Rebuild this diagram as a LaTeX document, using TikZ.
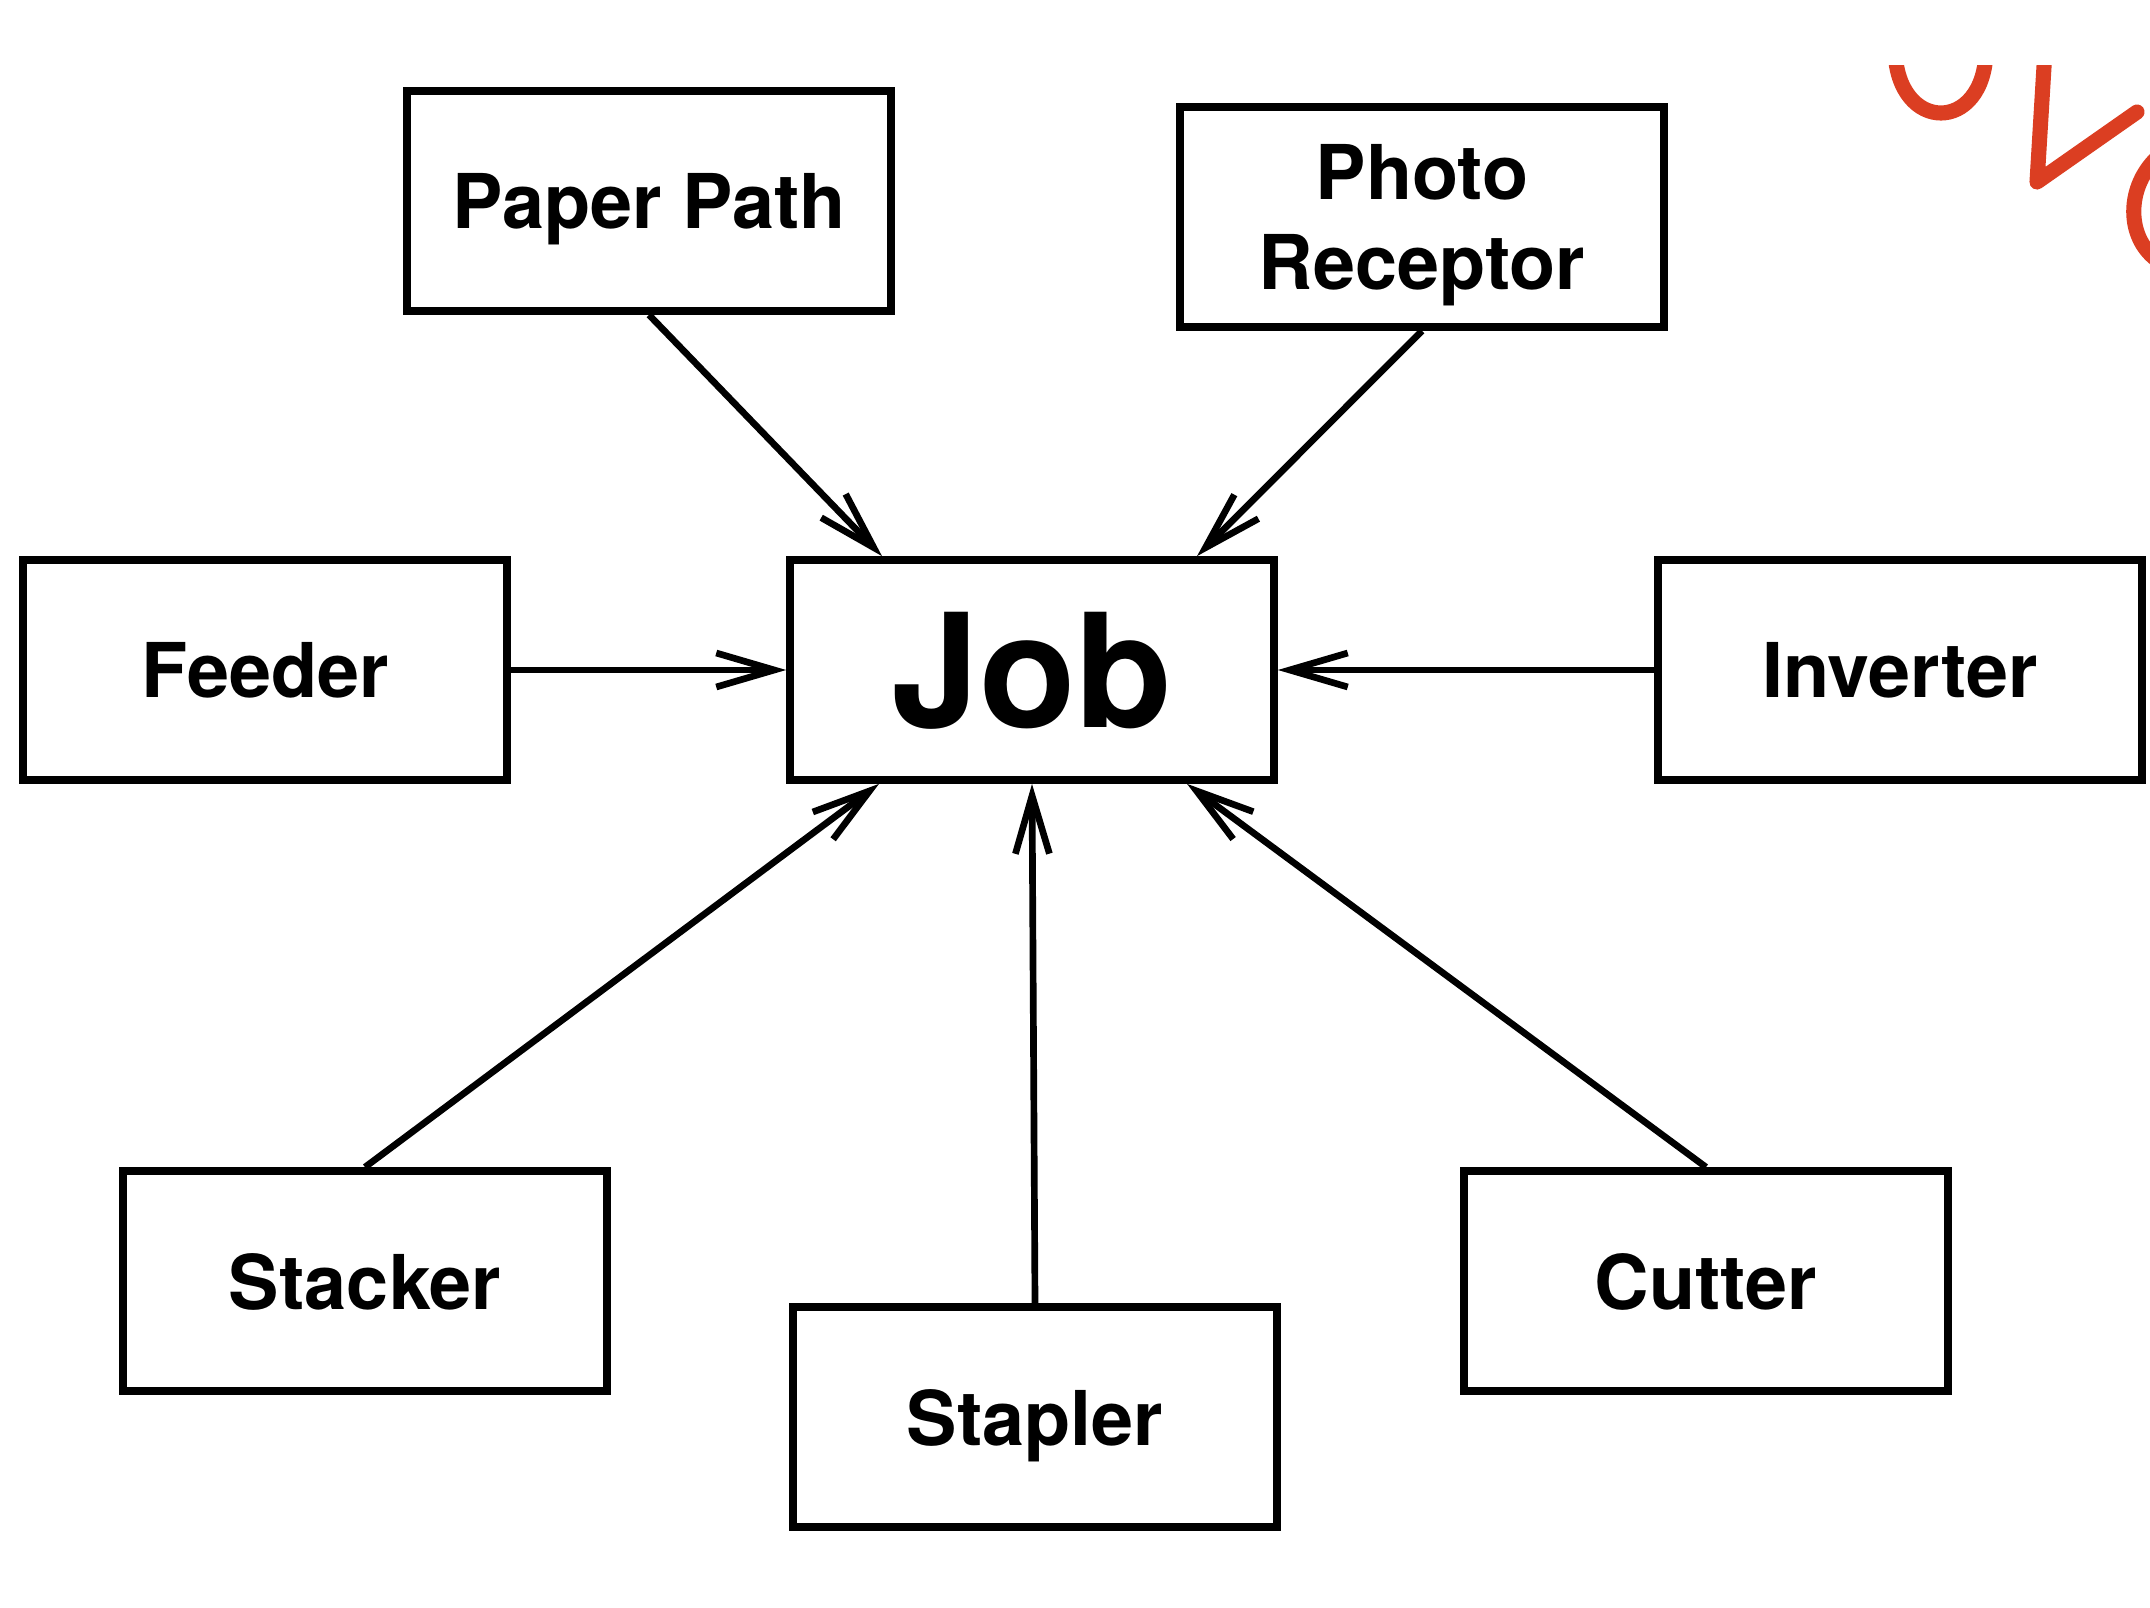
\documentclass[tikz,border=0pt]{standalone}
\usepackage{fontspec}
\setmainfont{TeX Gyre Heros}
\usetikzlibrary{arrows.meta,calc}
\definecolor{inkred}{RGB}{219,62,34}
\begin{document}
\begin{tikzpicture}[>={Straight Barb[length=5.8mm,width=3.4mm]},
  box/.style={draw, line width=2.2pt, minimum width=4.84cm, minimum height=2.2cm, inner sep=0pt, text depth=0pt, align=center, font=\fontsize{21.5}{25.5}\selectfont\bfseries},
  link/.style={->, line width=1.9pt}]
\useasboundingbox (0,0) rectangle (21.5,-16.08);
\node[box] (paper) at (6.49,-2.01) {Paper Path};
\node[box] (photo) at (14.22,-2.17) {Photo\\Receptor};
\node[box] (feeder) at (2.65,-6.70) {Feeder};
\node[box, font=\fontsize{45}{50}\selectfont\bfseries] (job) at (10.32,-6.70) {Job};
\node[box] (inverter) at (19.00,-6.70) {Inverter};
\node[box] (stacker) at (3.65,-12.81) {Stacker};
\node[box] (stapler) at (10.35,-14.17) {Stapler};
\node[box] (cutter) at (17.06,-12.81) {Cutter};
\draw[link] (paper.south)--($(job.north)+(-1.50,0)$);
\draw[link] (photo.south)--($(job.north)+(1.65,0)$);
\draw[link] (feeder.east)--(job.west);
\draw[link] (inverter.west)--(job.east);
\draw[link] (stacker.north)--($(job.south)+(-1.53,0)$);
\draw[link] (stapler.north)--(job.south);
\draw[link] (cutter.north)--($(job.south)+(1.55,0)$);
\begin{scope}
\clip (0,-0.66) rectangle (21.5,-16.08);
\draw[inkred, line width=4.3pt, line cap=round, line join=round]
  (18.95,-0.5) .. controls (18.97,-1.34) and (19.85,-1.34) .. (19.86,-0.5)
  (20.45,-0.5) -- (20.37,-1.82) -- (21.37,-1.12)
  (21.60,-1.55) .. controls (21.25,-1.85) and (21.25,-2.40) .. (21.60,-2.62);
\end{scope}
\end{tikzpicture}
\end{document}
